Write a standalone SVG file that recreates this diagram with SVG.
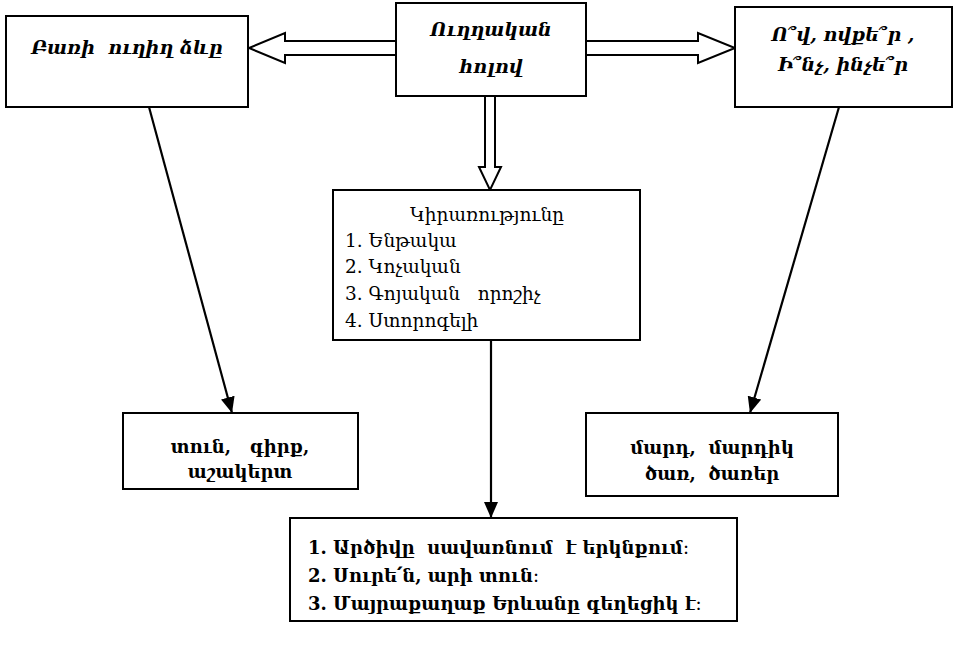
<svg xmlns="http://www.w3.org/2000/svg" width="954" height="645" viewBox="0 0 954 645">
<style>
.box{fill:#fff;stroke:#000;stroke-width:2}
.hol{fill:#fff;stroke:#000;stroke-width:2;stroke-linejoin:miter}
.ln{stroke:#000;stroke-width:2.2;fill:none}
text{white-space:pre}
.it{font-family:"DejaVu Serif","Noto Sans",serif;font-style:italic;font-weight:bold;font-size:19px;text-anchor:middle}
.rg{font-family:"DejaVu Serif","Noto Sans",serif;font-size:18.5px}
.bd{font-family:"DejaVu Serif","Noto Sans",serif;font-size:18px;font-weight:bold}
</style>
<defs>
<marker id="ah2" viewBox="0 0 16 14" refX="16" refY="7" markerWidth="16" markerHeight="14" markerUnits="userSpaceOnUse" orient="auto">
<path d="M0,0 L16,7 L0,14 z" fill="#000"/>
</marker>
</defs>
<g id="connectors">
<polygon class="hol" points="396,41 285,41 285,33 249,48 285,63 285,55 396,55"/>
<polygon class="hol" points="586,41 698,41 698,33 735,48 698,63 698,55 586,55"/>
<polygon class="hol" points="485,96 485,167 479,167 490,190 501,167 495,167 495,96"/>
<line class="ln" x1="149" y1="107" x2="232" y2="413" marker-end="url(#ah2)"/>
<line class="ln" x1="839" y1="107" x2="750" y2="413" marker-end="url(#ah2)"/>
<line class="ln" x1="491" y1="340" x2="491" y2="518" marker-end="url(#ah2)"/>
</g>
<g id="n_forma">
<rect class="box" x="6" y="16" width="242" height="91"/>
<text class="it" x="127" y="54">Բառի  ուղիղ ձևը</text>
</g>
<g id="n_holov">
<rect class="box" x="396" y="3" width="190" height="93"/>
<text class="it" x="491" y="36">Ուղղական</text>
<text class="it" x="491" y="73">հոլով</text>
</g>
<g id="n_harc">
<rect class="box" x="735" y="7" width="217" height="100"/>
<text class="it" x="843" y="41">Ո՞վ, ովքե՞ր ,</text>
<text class="it" x="843" y="71">Ի՞նչ, ինչե՞ր</text>
</g>
<g id="n_kirarutyun">
<rect class="box" x="333" y="190" width="307" height="150"/>
<text class="rg" x="487" y="221" text-anchor="middle" font-size="19.5">Կիրառությունը</text>
<text class="rg" x="345" y="247">1. Ենթակա</text>
<text class="rg" x="345" y="273">2. Կոչական</text>
<text class="rg" x="345" y="300">3. Գոյական   որոշիչ</text>
<text class="rg" x="345" y="327">4. Ստորոգելի</text>
</g>
<g id="n_tun">
<rect class="box" x="123" y="413" width="235" height="76"/>
<text class="bd" x="240" y="453" text-anchor="middle">տուն,   գիրք,</text>
<text class="bd" x="240" y="478" text-anchor="middle">աշակերտ</text>
</g>
<g id="n_mard">
<rect class="box" x="586" y="413" width="252" height="83"/>
<text class="bd" x="712" y="454" text-anchor="middle">մարդ,  մարդիկ</text>
<text class="bd" x="712" y="480" text-anchor="middle">ծառ,  ծառեր</text>
</g>
<g id="n_orinak">
<rect class="box" x="290" y="518" width="447" height="103"/>
<text class="bd" x="308" y="554" font-size="19">1. Արծիվը  սավառնում  է երկնքում։</text>
<text class="bd" x="308" y="582" font-size="19">2. Սուրե՛ն, արի տուն։</text>
<text class="bd" x="308" y="610" font-size="19">3. Մայրաքաղաք Երևանը գեղեցիկ է։</text>
</g>
</svg>
